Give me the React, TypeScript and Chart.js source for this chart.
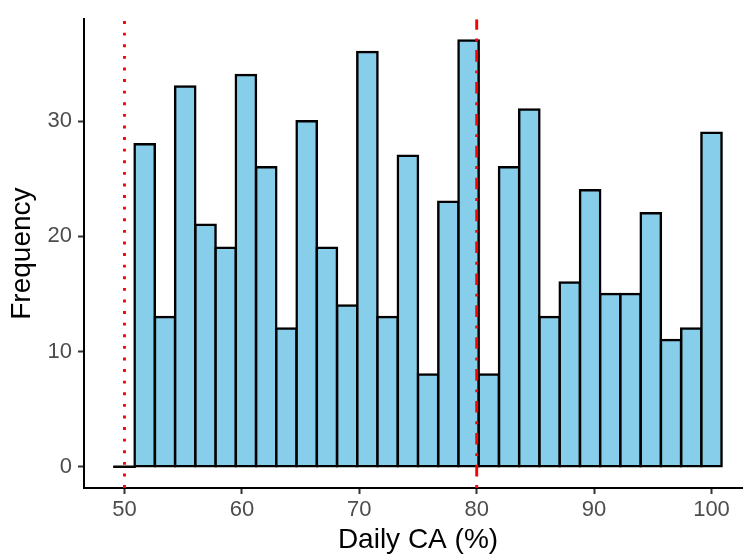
import { useEffect, useRef } from "react";
import { Chart, registerables } from "chart.js";

Chart.register(...registerables);

// Histogram bins (centres) and their counts
const binCenters = [
  50.0, 51.72, 53.45, 55.17, 56.9, 58.62, 60.34, 62.07, 63.79, 65.52,
  67.24, 68.97, 70.69, 72.41, 74.14, 75.86, 77.59, 79.31, 81.03, 82.76,
  84.48, 86.21, 87.93, 89.66, 91.38, 93.1, 94.83, 96.55, 98.28, 100.0,
];
const frequencies = [
  0, 28, 13, 33, 21, 19, 34, 26, 12, 30,
  19, 14, 36, 13, 27, 8, 23, 37, 8, 26,
  31, 13, 16, 24, 15, 15, 22, 11, 12, 29,
];
const xTicks = [50, 60, 70, 80, 90, 100];
const yTicks = [0, 10, 20, 30];
const xRange = [46.55, 103.45];
const yRange = [-1.85, 38.85];
const dottedLineX = 50;
const dashedLineX = 80;

const FONT = "'Liberation Sans', Arial, sans-serif";

export default function App() {
  const ref = useRef<HTMLCanvasElement | null>(null);

  useEffect(() => {
    if (!ref.current) return;
    const isEmpty = (ctx: any) => ctx.raw && ctx.raw.y === 0;
    const chart = new Chart(ref.current, {
      type: "bar",
      data: {
        datasets: [
          {
            type: "line",
            data: [
              { x: dottedLineX, y: yRange[0] },
              { x: dottedLineX, y: yRange[1] },
            ],
            borderColor: "#FF0000",
            borderWidth: 2.9,
            borderDash: [2.9, 8.7],
            borderCapStyle: "butt",
            pointRadius: 0,
            fill: false,
            order: 1,
          } as any,
          {
            type: "line",
            data: [
              { x: dashedLineX, y: yRange[0] },
              { x: dashedLineX, y: yRange[1] },
            ],
            borderColor: "#FF0000",
            borderWidth: 2.9,
            borderDash: [2.9, 8.7, 11.6, 8.7],
            borderCapStyle: "butt",
            pointRadius: 0,
            fill: false,
            order: 1,
          } as any,
          {
            type: "bar",
            data: binCenters.map((x, i) => ({ x, y: frequencies[i] })),
            backgroundColor: (ctx: any) => (isEmpty(ctx) ? "#000000" : "#87CEEB"),
            borderColor: "#000000",
            borderWidth: (ctx: any) => (isEmpty(ctx) ? 0 : 2.5),
            borderSkipped: false,
            inflateAmount: 1.25,
            barPercentage: 1,
            categoryPercentage: 1,
            grouped: false,
            order: 2,
          } as any,
        ],
      },
      options: {
        animation: false,
        responsive: false,
        devicePixelRatio: 1,
        layout: { padding: { top: 8, left: 0, right: 0, bottom: 0 } },
        plugins: { legend: { display: false }, tooltip: { enabled: false } },
        scales: {
          x: {
            type: "linear",
            min: xRange[0],
            max: xRange[1],
            offset: false,
            afterBuildTicks: (s: any) => {
              s.ticks = xTicks.map((v) => ({ value: v }));
            },
            afterFit: (s: any) => {
              s.height = 72;
            },
            grid: {
              offset: false,
              drawOnChartArea: false,
              drawTicks: true,
              tickLength: 6,
              tickWidth: 2,
              tickColor: "#333333",
            },
            border: { display: true, color: "#000000", width: 2 },
            ticks: {
              color: "#4D4D4D",
              font: { family: FONT, size: 22 },
              padding: 3,
              maxRotation: 0,
              autoSkip: false,
            },
            title: {
              display: true,
              text: "Daily CA (%)",
              color: "#000000",
              font: { family: FONT, size: 28 },
              padding: { top: 0, bottom: 3 },
            },
          },
          y: {
            type: "linear",
            min: yRange[0],
            max: yRange[1],
            afterBuildTicks: (s: any) => {
              s.ticks = yTicks.map((v) => ({ value: v }));
            },
            afterFit: (s: any) => {
              s.width = 84;
            },
            grid: {
              offset: false,
              drawOnChartArea: false,
              drawTicks: true,
              tickLength: 6,
              tickWidth: 2,
              tickColor: "#333333",
            },
            border: { display: true, color: "#000000", width: 2 },
            ticks: {
              color: "#4D4D4D",
              font: { family: FONT, size: 22 },
              padding: 6,
            },
            title: {
              display: true,
              text: "Frequency",
              color: "#000000",
              font: { family: FONT, size: 28 },
              padding: { top: 5, bottom: 0 },
            },
          },
        },
      } as any,
    });
    return () => chart.destroy();
  }, []);

  return (
    <div
      style={{
        position: "absolute",
        left: 0,
        top: 0,
        width: 743,
        height: 560,
        overflow: "hidden",
        background: "#FFFFFF",
      }}
    >
      <canvas ref={ref} width={752} height={560} style={{ display: "block" }} />
    </div>
  );
}
